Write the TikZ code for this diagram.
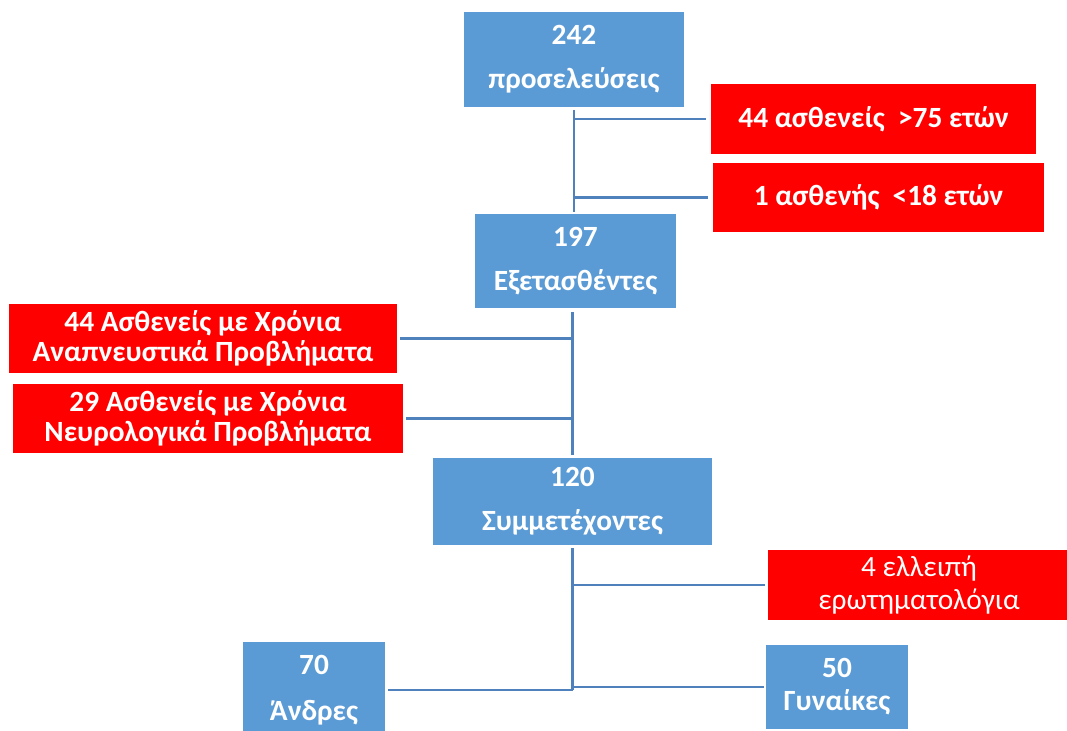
\documentclass[tikz,border=0pt]{standalone}
\usepackage{fontspec}
\setmainfont{Carlito}
\usepackage{tikz}

\definecolor{boxblue}{HTML}{5B9BD5}
\definecolor{boxred}{HTML}{FF0000}
\definecolor{linkblue}{HTML}{4F81BD}

\begin{document}
\begin{tikzpicture}[x=0.75pt,y=0.75pt,yscale=-1,xscale=1,
  bluebox/.style={fill=boxblue,text=white,inner sep=0pt,align=center,
    font=\bfseries\fontsize{22}{33}\selectfont},
  redbox/.style={fill=boxred,text=white,inner sep=0pt,align=center,
    font=\bfseries\fontsize{22}{22.5}\selectfont},
  link/.style={draw=linkblue,line width=1.6pt}]
\useasboundingbox (0,0) rectangle (1067,731);

% Text Node
\node [bluebox,minimum width=165pt,minimum height=71.25pt] (visits) at (574,59.5) {242\\προσελεύσεις};
% Text Node
\node [redbox,minimum width=243.75pt,minimum height=52.5pt] (old) at (873.5,119) {44 ασθενείς\ \ >75 ετών};
% Text Node
\node [redbox,minimum width=248.25pt,minimum height=51.75pt] (young) at (878.5,197.5) {1 ασθενής\ \ <18 ετών};
% Text Node
\node [bluebox,minimum width=150.75pt,minimum height=70.5pt] (examined) at (575.5,261) {197\\Εξετασθέντες};
% Text Node
\node [redbox,minimum width=291pt,minimum height=51.75pt] (resp) at (203,338.5) {44 Ασθενείς με Χρόνια\\Αναπνευστικά Προβλήματα};
% Text Node
\node [redbox,minimum width=292.5pt,minimum height=51.75pt] (neuro) at (208,418.5) {29 Ασθενείς με Χρόνια\\Νευρολογικά Προβλήματα};
% Text Node
\node [bluebox,minimum width=209.25pt,minimum height=65.25pt] (part) at (572.5,501.5) {120\\Συμμετέχοντες};
% Text Node
\node [redbox,font=\fontsize{22}{24.75}\selectfont,minimum width=226.5pt,minimum height=52.5pt] (missing) at (919,585) {4 ελλειπή\\ερωτηματολόγια};
% Text Node
\node [bluebox,font=\bfseries\fontsize{22}{34.5}\selectfont,minimum width=106.5pt,minimum height=72pt] (men) at (314,690) {70\\Άνδρες};
% Text Node
\node [bluebox,font=\bfseries\fontsize{22}{24.75}\selectfont,minimum width=106.5pt,minimum height=63pt] (women) at (837,687) {50\\Γυναίκες};

% Connection
\draw [link,shorten <=2.25pt,shorten >=1.5pt] (visits.south) -- (visits.south |- examined.north);
% Connection
\draw [link,shorten <=3.75pt] (old.west) -- (old.west -| visits.south);
% Connection
\draw [link,shorten <=3.75pt] (young.west) -- (young.west -| visits.south);
% Connection
\draw [link,shorten <=3pt,shorten >=2.25pt] (examined.south -| part.north) -- (part.north);
% Connection
\draw [link,shorten <=2.25pt] (resp.east) -- (resp.east -| part.north);
% Connection
\draw [link,shorten <=2.25pt] (neuro.east) -- (neuro.east -| part.north);
% Connection
\draw [link,shorten <=2.25pt] (part.south) -- (part.south |- men.east);
% Connection
\draw [link,shorten <=2.25pt] (missing.west) -- (missing.west -| part.south);
% Connection
\draw [link,shorten <=2.25pt] (men.east) -- (men.east -| part.south);
% Connection
\draw [link,shorten <=1.5pt] (women.west) -- (women.west -| part.south);

\end{tikzpicture}
\end{document}
